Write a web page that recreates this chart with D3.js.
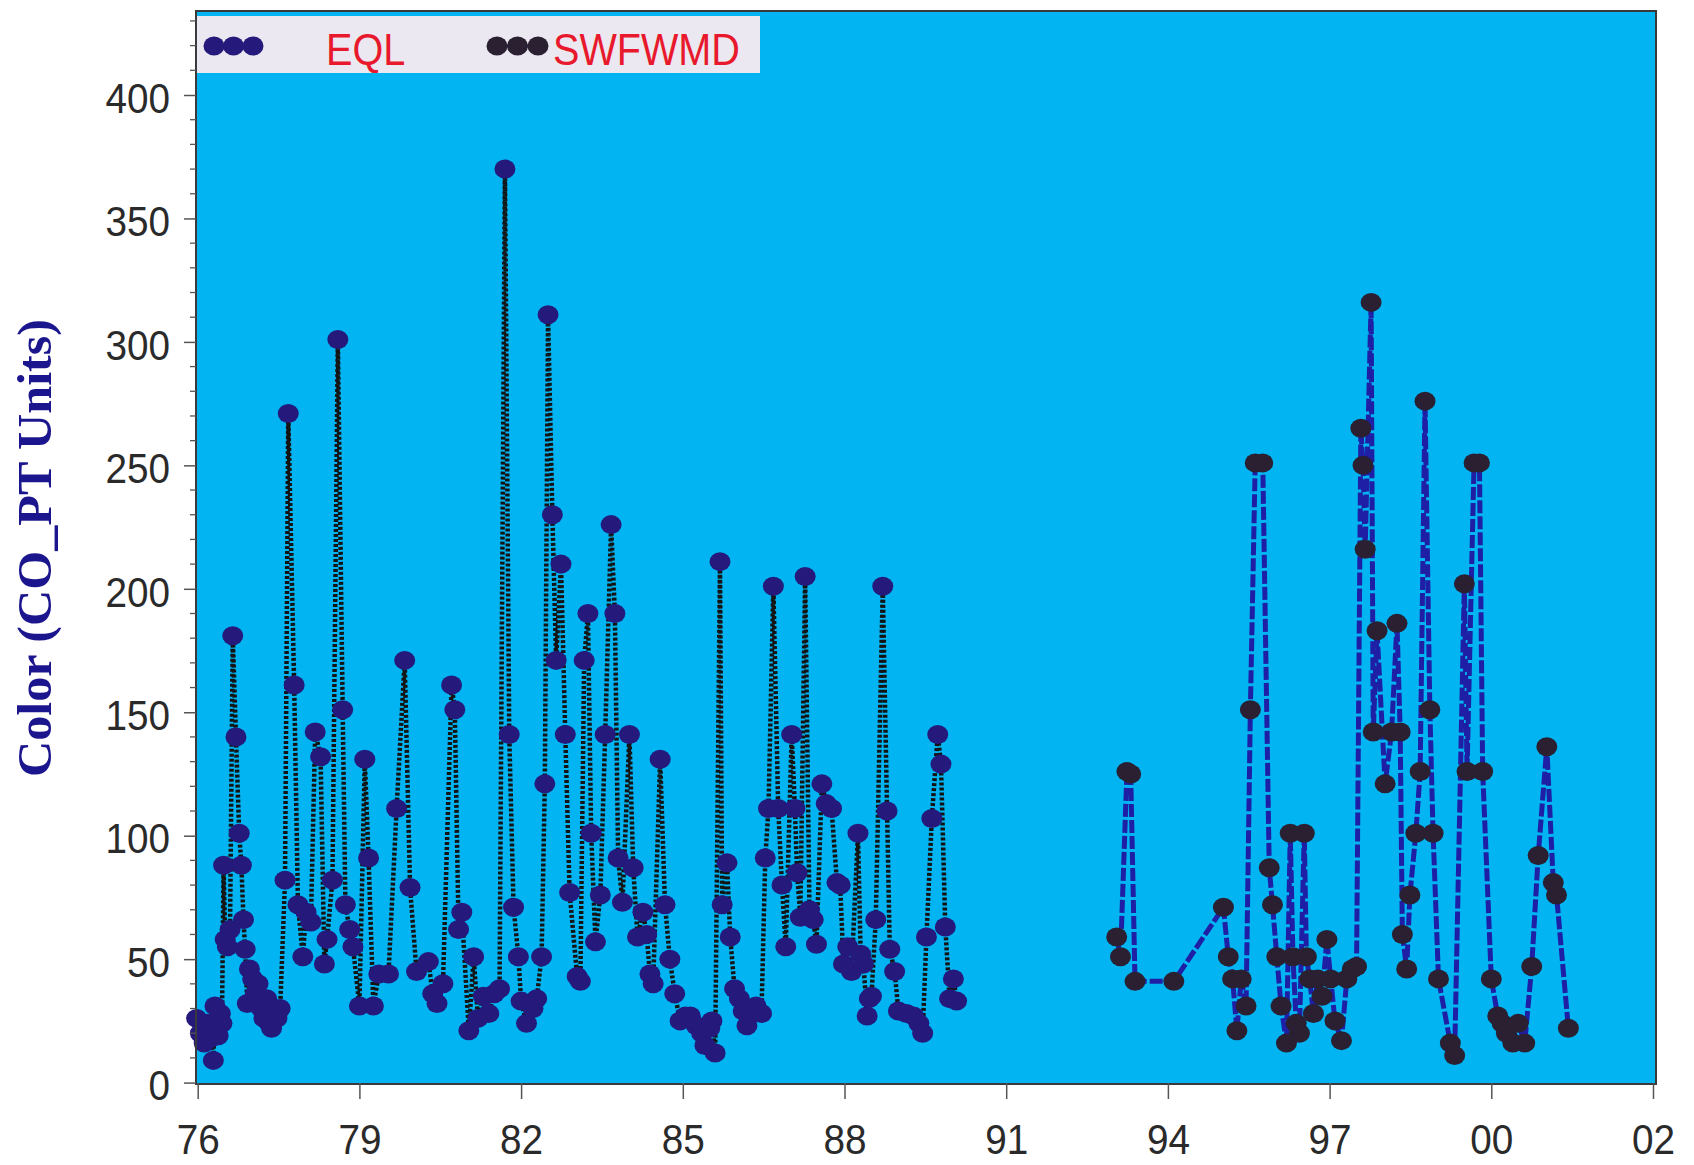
<!DOCTYPE html>
<html>
<head>
<meta charset="utf-8">
<script src="https://cdn.jsdelivr.net/npm/d3@7"></script>
<style>
  html, body { margin: 0; padding: 0; background: #ffffff; }
  svg { display: block; }
</style>
</head>
<body>
<svg id="chart" width="1694" height="1165"></svg>
<script>
// ---------------- DATA ----------------
const seriesNames = ["EQL", "SWFWMD"];

const eqlYears = [
  1975.98,1976.05,1976.12,1976.18,1976.24,1976.29,1976.32,1976.38,1976.42,1976.45,
  1976.48,1976.51,1976.55,1976.60,1976.65,1976.71,1976.77,1976.81,1976.85,1976.88,
  1976.92,1976.96,1977.02,1977.07,1977.12,1977.18,1977.23,1977.28,1977.33,1977.37,
  1977.42,1977.47,1977.53,1977.62,1977.68,1977.79,1977.86,1977.95,1978.01,1978.10,
  1978.18,1978.28,1978.35,1978.40,1978.50,1978.60,1978.69,1978.74,1978.82,1978.88,
  1979.00,1979.10,1979.17,1979.26,1979.36,1979.54,1979.69,1979.84,1979.94,1980.06,
  1980.28,1980.36,1980.44,1980.55,1980.71,1980.77,1980.84,1980.90,1981.03,1981.12,
  1981.20,1981.30,1981.40,1981.50,1981.60,1981.70,1981.78,1981.86,1981.95,1982.00,
  1982.10,1982.22,1982.29,1982.38,1982.44,1982.50,1982.58,1982.65,1982.74,1982.82,
  1982.90,1983.04,1983.10,1983.17,1983.24,1983.30,1983.38,1983.47,1983.56,1983.67,
  1983.74,1983.80,1983.88,1984.01,1984.08,1984.16,1984.26,1984.33,1984.39,1984.45,
  1984.58,1984.67,1984.76,1984.85,1984.95,1985.05,1985.14,1985.25,1985.35,1985.41,
  1985.50,1985.54,1985.60,1985.69,1985.73,1985.82,1985.88,1985.96,1986.05,1986.12,
  1986.19,1986.28,1986.36,1986.46,1986.53,1986.59,1986.68,1986.77,1986.84,1986.91,
  1987.02,1987.08,1987.12,1987.18,1987.27,1987.35,1987.42,1987.48,1987.58,1987.66,
  1987.76,1987.86,1987.92,1987.98,1988.06,1988.13,1988.25,1988.30,1988.35,1988.42,
  1988.46,1988.50,1988.58,1988.71,1988.79,1988.84,1988.93,1989.00,1989.15,1989.28,
  1989.38,1989.45,1989.52,1989.62,1989.73,1989.79,1989.87,1989.95,1990.02,1990.08
];
const eqlValues = [
  26,20,16,24,18,9,31,19,28,24,
  88,58,55,62,181,140,101,88,66,54,
  32,46,42,36,40,30,26,34,24,22,
  30,26,30,82,271,161,72,51,69,65,
  142,132,48,58,82,301,151,72,62,55,
  31,131,91,31,44,44,111,171,79,45,
  49,36,32,40,161,151,62,69,21,51,
  26,35,28,36,38,370,141,71,51,33,
  24,30,34,51,121,311,230,171,210,141,
  77,43,41,171,190,101,57,76,141,226,
  190,91,73,141,87,59,69,60,44,40,
  131,72,50,36,25,27,27,23,20,15,
  22,25,12,211,72,89,59,38,34,29,
  23,28,31,28,91,111,201,111,80,55,
  141,111,85,67,205,70,66,56,121,113,
  111,81,80,48,55,45,101,52,48,27,
  34,35,66,201,110,54,45,29,28,27,
  24,20,59,107,141,129,63,34,42,33
];

const swfYears = [
  1993.05,1993.12,1993.24,1993.31,1993.39,1994.11,1995.03,1995.12,1995.20,1995.28,
  1995.36,1995.45,1995.53,1995.62,1995.76,1995.88,1995.94,1996.02,1996.10,1996.20,
  1996.27,1996.32,1996.38,1996.44,1996.53,1996.57,1996.63,1996.70,1996.78,1996.86,
  1996.95,1997.02,1997.10,1997.22,1997.32,1997.42,1997.50,1997.58,1997.62,1997.66,
  1997.77,1997.81,1997.88,1998.03,1998.15,1998.25,1998.31,1998.35,1998.43,1998.49,
  1998.60,1998.68,1998.77,1998.86,1998.92,1999.02,1999.24,1999.32,1999.50,1999.55,
  1999.68,1999.78,1999.84,2000.00,2000.12,2000.20,2000.28,2000.40,2000.50,2000.62,
  2000.75,2000.87,2001.03,2001.15,2001.21,2001.43
];
const swfValues = [
  59,51,126,125,41,41,71,51,42,21,
  42,31,151,251,251,87,72,51,31,16,
  101,51,24,20,101,51,42,28,42,35,
  58,42,25,17,42,46,47,265,250,216,
  316,142,183,121,142,186,142,60,46,76,
  101,126,276,151,101,42,16,11,202,126,
  251,251,126,42,27,24,20,16,24,16,
  47,92,136,81,76,22
];

const xTickYears  = [1976,1979,1982,1985,1988,1991,1994,1997,2000,2003];
const xTickLabels = ["76","79","82","85","88","91","94","97","00","02"];
const yTickValues = [0,50,100,150,200,250,300,350,400];
const yMinorStep = 10;
const yAxisTitle = "Color (CO_PT Units)";

// ---------------- LAYOUT / STYLE ----------------
const plot = { left: 196, right: 1656, top: 11, bottom: 1084 };
const bgBlue = "#02b5f2";
const textScaleX = 0.9;

const svg = d3.select("#chart");

const x = d3.scaleLinear().domain([1976, 2003]).range([197.7, 1653]);
const y = d3.scaleLinear().domain([0, 400]).range([1082.6, 95]);

// plot background
svg.append("rect")
  .attr("x", plot.left).attr("y", plot.top)
  .attr("width", plot.right - plot.left).attr("height", plot.bottom - plot.top)
  .attr("fill", bgBlue);

// ---------------- SERIES ----------------
const eqlData = eqlYears.map((t, i) => ({ t, v: eqlValues[i] }));
const swfData = swfYears.map((t, i) => ({ t, v: swfValues[i] }));

const line = d3.line().x(d => x(d.t)).y(d => y(d.v));

const styles = {
  EQL:    { stroke: "#141414", width: 4.5, dash: "3,2",  fill: "#25197c" },
  SWFWMD: { stroke: "#1f1fa6", width: 5,   dash: "13,3", fill: "#2a2032" }
};

function drawSeries(data, st) {
  const g = svg.append("g");
  g.append("path")
    .datum(data)
    .attr("d", line)
    .attr("fill", "none")
    .attr("stroke", st.stroke)
    .attr("stroke-width", st.width)
    .attr("stroke-dasharray", st.dash);
  g.selectAll("ellipse")
    .data(data)
    .enter().append("ellipse")
    .attr("cx", d => x(d.t))
    .attr("cy", d => y(d.v))
    .attr("rx", 10.5)
    .attr("ry", 9.5)
    .attr("fill", st.fill);
}
drawSeries(eqlData, styles.EQL);
drawSeries(swfData, styles.SWFWMD);

// plot border
svg.append("rect")
  .attr("x", plot.left).attr("y", plot.top)
  .attr("width", plot.right - plot.left).attr("height", plot.bottom - plot.top)
  .attr("fill", "none").attr("stroke", "#3a3a3a").attr("stroke-width", 2);

// ---------------- AXES ----------------
const labelFont = "'Liberation Sans', Arial, sans-serif";

// X axis
const xAxis = d3.axisBottom(x)
  .tickValues(xTickYears)
  .tickSize(16)
  .tickSizeOuter(0)
  .tickFormat((d, i) => xTickLabels[i]);
const gx = svg.append("g").attr("transform", `translate(0,${plot.bottom - 1})`).call(xAxis);
gx.select(".domain").remove();
gx.selectAll(".tick line").attr("stroke", "#555").attr("stroke-width", 1.5);
gx.selectAll(".tick text")
  .attr("y", 71).attr("dy", null)
  .attr("transform", `scale(${textScaleX},1)`)
  .attr("fill", "#2a2a2a")
  .style("font-family", labelFont)
  .style("font-size", "43px");

// Y axis minor ticks
const yMinor = d3.range(0, 431, yMinorStep).filter(v => v % 50 !== 0);
svg.append("g").selectAll("line")
  .data(yMinor).enter().append("line")
  .attr("x1", plot.left - 6).attr("x2", plot.left)
  .attr("y1", d => y(d)).attr("y2", d => y(d))
  .attr("stroke", "#555").attr("stroke-width", 1.3);

// Y axis major
const yAxis = d3.axisLeft(y)
  .tickValues(yTickValues)
  .tickSize(12)
  .tickSizeOuter(0)
  .tickFormat(d3.format("d"));
const gy = svg.append("g").attr("transform", `translate(${plot.left},0)`).call(yAxis);
gy.select(".domain").remove();
gy.selectAll(".tick line").attr("stroke", "#555").attr("stroke-width", 1.5);
gy.selectAll(".tick text")
  .attr("x", -26 / textScaleX).attr("dy", "0.40em")
  .attr("transform", `scale(${textScaleX},1)`)
  .attr("fill", "#2a2a2a")
  .style("font-family", labelFont)
  .style("font-size", "43px");

// Y axis title
svg.append("text")
  .attr("transform", "translate(51,548) rotate(-90)")
  .attr("text-anchor", "middle")
  .attr("fill", "#1c168e")
  .attr("textLength", 458)
  .attr("lengthAdjust", "spacingAndGlyphs")
  .style("font-family", "'Liberation Serif', 'Times New Roman', serif")
  .style("font-weight", "bold")
  .style("font-size", "48px")
  .text(yAxisTitle);

// ---------------- LEGEND ----------------
const lg = svg.append("g");
lg.append("rect")
  .attr("x", 197).attr("y", 16).attr("width", 563).attr("height", 57)
  .attr("fill", "#ebe8f1");

const legendItems = [
  { name: seriesNames[0], st: styles.EQL,    dots: [214, 233.5, 253], textX: 326 },
  { name: seriesNames[1], st: styles.SWFWMD, dots: [497, 517.5, 538], textX: 553 }
];
legendItems.forEach(it => {
  lg.append("line")
    .attr("x1", it.dots[0] - 8).attr("x2", it.dots[2] + 8)
    .attr("y1", 46).attr("y2", 46)
    .attr("stroke", it.st.stroke).attr("stroke-width", 3)
    .attr("stroke-dasharray", it.st.dash);
  lg.selectAll(null).data(it.dots).enter().append("ellipse")
    .attr("cx", d => d).attr("cy", 46)
    .attr("rx", 10.5).attr("ry", 9.5)
    .attr("fill", it.st.fill);
  lg.append("text")
    .attr("transform", `translate(${it.textX},65) scale(${textScaleX},1)`)
    .attr("fill", "#e8192c")
    .style("font-family", labelFont)
    .style("font-size", "44px")
    .text(it.name);
});
</script>
</body>
</html>
